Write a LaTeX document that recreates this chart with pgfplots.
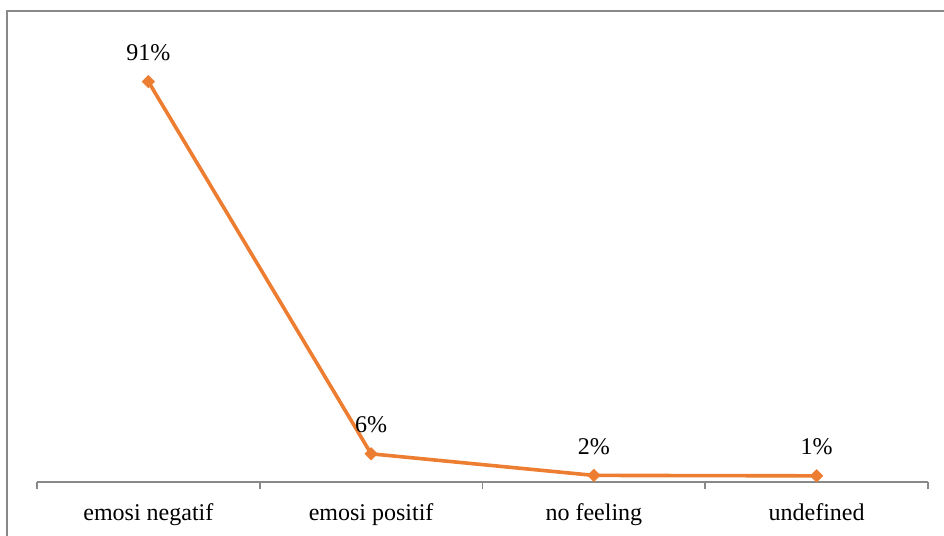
\documentclass[border=0pt]{standalone}
\usepackage{pgfplots}
\pgfplotsset{compat=1.18}
\usepackage{fontspec}
\setmainfont{Liberation Serif}
\definecolor{lineorange}{RGB}{237,125,49}
\definecolor{framegray}{RGB}{137,137,137}
\begin{document}
\fontsize{12pt}{14pt}\selectfont
\begin{tikzpicture}
\useasboundingbox (0,0) rectangle (472pt,268pt);
\draw[framegray, line width=1pt] (3.5pt,-10pt) -- (3.5pt,262.5pt) -- (490pt,262.5pt);
\begin{axis}[
  at={(18.5pt,27pt)}, anchor=south west,
  scale only axis, width=445.5pt, height=220pt,
  xmin=-0.5, xmax=3.5, ymin=0, ymax=100,
  axis x line=bottom, axis y line=none,
  x axis line style={-, framegray, line width=0.8pt},
  xtick={0,1,2,3},
  xticklabels={emosi negatif, emosi positif, no feeling, undefined},
  major tick length=0pt,
  minor xtick={-0.5,0.5,1.5,2.5,3.5},
  minor tick length=3.5pt,
  tick align=outside,
  minor tick style={framegray, line width=0.8pt},
  xticklabel style={anchor=base, yshift=-19.5pt, font=\fontsize{12pt}{14pt}\selectfont},
  nodes near coords,
  point meta=explicit symbolic,
  nodes near coords style={anchor=center, yshift=14.5pt, font=\fontsize{12pt}{14pt}\selectfont, text=black},
  clip=false,
]
\addplot[lineorange, line width=1.8pt, mark=square*, mark size=2.2pt, mark options={rotate=45, fill=lineorange, draw=lineorange, line width=0.3pt}]
  coordinates {(0,91) [91\%] (1,6.4) [6\%] (2,1.5) [2\%] (3,1.4) [1\%]};
\end{axis}
\end{tikzpicture}
\end{document}
